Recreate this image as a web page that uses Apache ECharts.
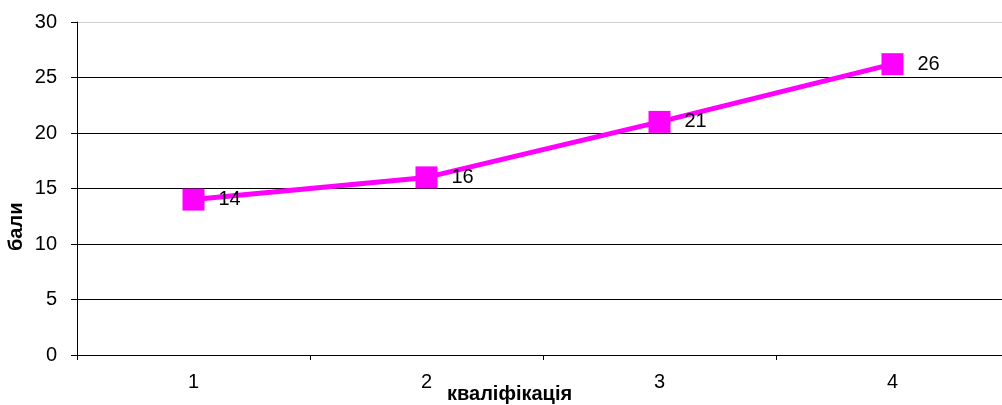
<!DOCTYPE html>
<html><head><meta charset="utf-8">
<script src="https://cdn.jsdelivr.net/npm/echarts@6/dist/echarts.min.js"></script>
<style>html,body{margin:0;padding:0;background:#fff}#c{width:1002px;height:405px}</style>
</head><body><div id="c"></div>
<script>
const categories = ['1', '2', '3', '4'];
const values = [14, 16, 21, 26.2];
const xTitle = 'кваліфікація';
const yTitle = 'бали';

const chart = echarts.init(document.getElementById('c'));
const font = 'Liberation Sans, Arial, sans-serif';
chart.setOption({
  animation: false,
  backgroundColor: '#fff',
  grid: { left: 77, width: 932, top: 22, bottom: 50, outerBoundsMode: 'none', containLabel: false },
  xAxis: {
    type: 'category', data: categories, boundaryGap: true,
    axisLine: { lineStyle: { color: '#000', width: 1 } },
    axisTick: { show: true, length: 5, lineStyle: { color: '#000' } },
    axisLabel: { color: '#000', fontSize: 20, fontFamily: font, margin: 17 },
    splitLine: { show: false }
  },
  yAxis: {
    type: 'value', min: 0, max: 30, interval: 5,
    axisLine: { show: true, lineStyle: { color: '#000', width: 1 } },
    axisTick: { show: true, length: 6, lineStyle: { color: '#000' } },
    axisLabel: { color: '#000', fontSize: 20, fontFamily: font, margin: 20 },
    splitLine: { show: true, lineStyle: { color: ['#000','#000','#000','#000','#000','#000','#d0d0d0'], width: 1 } }
  },
  graphic: [
    { type: 'text', left: 447, top: 384, style: { text: xTitle, font: 'bold 20px ' + font, fill: '#000' } },
    { type: 'text', x: 6, y: 251, rotation: Math.PI / 2, style: { text: yTitle, font: 'bold 20px ' + font, fill: '#000' } }
  ],
  series: [{
    type: 'line', data: values,
    lineStyle: { color: '#FF00FF', width: 5 },
    itemStyle: { color: '#FF00FF' },
    symbol: 'rect', symbolSize: 22,
    label: { show: true, position: 'right', distance: 14, color: '#000', fontSize: 20, fontFamily: font,
      formatter: p => Math.round(p.value) }
  }]
});
</script></body></html>
